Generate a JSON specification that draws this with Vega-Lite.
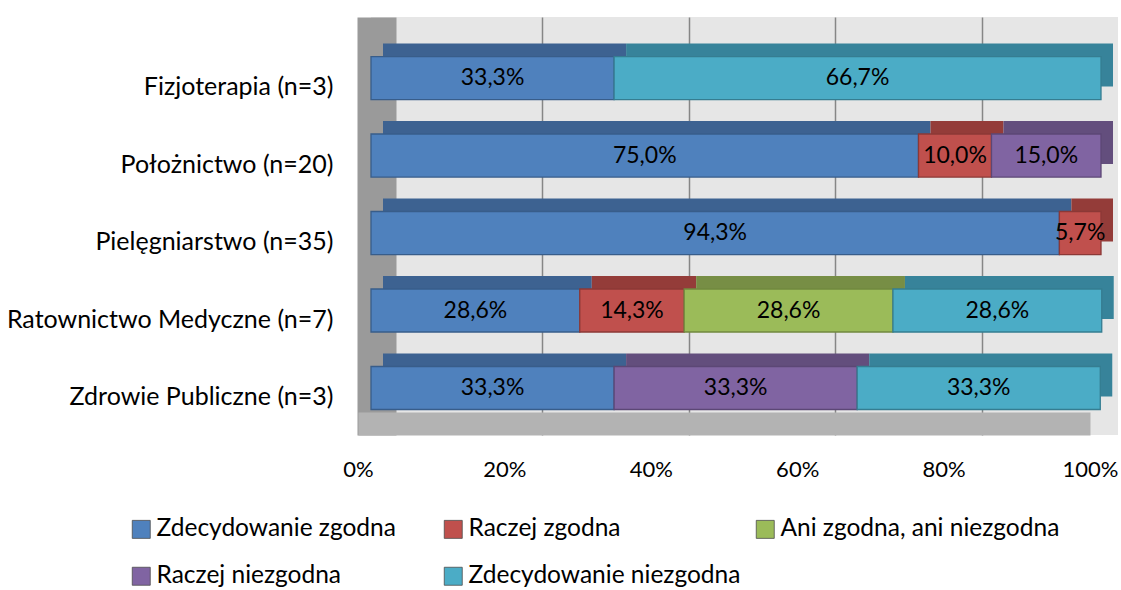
{
  "$schema": "https://vega.github.io/schema/vega-lite/v6.json",
  "width": 747,
  "height": 418,
  "autosize": {"type": "none"},
  "padding": {"left": 371, "top": 17, "right": 3, "bottom": 155},
  "background": "white",
  "config": {
    "font": "Lato",
    "locale": {"number": {"decimal": ",", "thousands": " ", "grouping": [3], "currency": ["", " zł"]}},
    "view": {"fill": "#e6e6e6", "stroke": null}
  },
  "data": {
    "values": [
      {"kierunek": "Fizjoterapia (n=3)", "odpowiedz": "Zdecydowanie zgodna", "o": 1, "udzial": 0.333},
      {"kierunek": "Fizjoterapia (n=3)", "odpowiedz": "Zdecydowanie niezgodna", "o": 5, "udzial": 0.667},
      {"kierunek": "Położnictwo (n=20)", "odpowiedz": "Zdecydowanie zgodna", "o": 1, "udzial": 0.75},
      {"kierunek": "Położnictwo (n=20)", "odpowiedz": "Raczej zgodna", "o": 2, "udzial": 0.10},
      {"kierunek": "Położnictwo (n=20)", "odpowiedz": "Raczej niezgodna", "o": 4, "udzial": 0.15},
      {"kierunek": "Pielęgniarstwo (n=35)", "odpowiedz": "Zdecydowanie zgodna", "o": 1, "udzial": 0.943},
      {"kierunek": "Pielęgniarstwo (n=35)", "odpowiedz": "Raczej zgodna", "o": 2, "udzial": 0.057},
      {"kierunek": "Ratownictwo Medyczne (n=7)", "odpowiedz": "Zdecydowanie zgodna", "o": 1, "udzial": 0.286},
      {"kierunek": "Ratownictwo Medyczne (n=7)", "odpowiedz": "Raczej zgodna", "o": 2, "udzial": 0.143},
      {"kierunek": "Ratownictwo Medyczne (n=7)", "odpowiedz": "Ani zgodna, ani niezgodna", "o": 3, "udzial": 0.286},
      {"kierunek": "Ratownictwo Medyczne (n=7)", "odpowiedz": "Zdecydowanie niezgodna", "o": 5, "udzial": 0.286},
      {"kierunek": "Zdrowie Publiczne (n=3)", "odpowiedz": "Zdecydowanie zgodna", "o": 1, "udzial": 0.333},
      {"kierunek": "Zdrowie Publiczne (n=3)", "odpowiedz": "Raczej niezgodna", "o": 4, "udzial": 0.333},
      {"kierunek": "Zdrowie Publiczne (n=3)", "odpowiedz": "Zdecydowanie niezgodna", "o": 5, "udzial": 0.333}
    ]
  },
  "transform": [
    {"stack": "udzial", "groupby": ["kierunek"], "sort": [{"field": "o", "order": "ascending"}], "as": ["x0", "x1"]}
  ],
  "encoding": {
    "y": {
      "field": "kierunek",
      "type": "nominal",
      "title": null,
      "sort": ["Fizjoterapia (n=3)", "Położnictwo (n=20)", "Pielęgniarstwo (n=35)", "Ratownictwo Medyczne (n=7)", "Zdrowie Publiczne (n=3)"],
      "scale": {"paddingInner": 0.445, "paddingOuter": 0.4195, "align": 0.608},
      "axis": {
        "orient": "left",
        "offset": -5.5,
        "domainColor": "#9a9a9a",
        "domainWidth": 39,
        "domainCap": "butt",
        "ticks": false,
        "grid": false,
        "labelPadding": 43.5,
        "labelOffset": 9,
        "labelFontSize": 25,
        "labelFont": "Lato",
        "labelColor": "#000000",
        "labelLimit": 500,
        "zindex": 0
      }
    }
  },
  "layer": [
    {
      "mark": {"type": "point", "opacity": 0},
      "encoding": {
        "x": {
          "field": "x1",
          "type": "quantitative",
          "scale": {"domain": [0, 1], "range": [25, 757], "nice": false, "zero": false},
          "axis": {
            "orient": "bottom",
            "grid": true,
            "gridColor": "#868686",
            "gridWidth": 1.5,
            "values": [0.2, 0.4, 0.6, 0.8],
            "labels": false,
            "ticks": false,
            "domain": false,
            "title": null,
            "zindex": 0
          }
        }
      }
    },
    {
      "mark": {"type": "point", "opacity": 0},
      "encoding": {
        "x": {
          "field": "x1",
          "type": "quantitative",
          "scale": {"domain": [0, 1], "range": [-13, 719], "nice": false, "zero": false},
          "axis": {
            "orient": "bottom",
            "offset": -11.5,
            "domainColor": "#b3b3b3",
            "domainWidth": 23,
            "domainCap": "butt",
            "ticks": false,
            "grid": false,
            "values": [0, 0.2, 0.4, 0.6, 0.8, 1],
            "format": ".0%",
            "labelPadding": 36,
            "labelFontSize": 22,
            "labelFont": "Lato",
            "labelColor": "#000000",
            "labelFlush": false,
            "labelOverlap": false,
            "title": null,
            "zindex": 1
          }
        }
      }
    },
    {
      "mark": {"type": "bar", "xOffset": 12, "x2Offset": 12, "yOffset": -13, "y2Offset": -13},
      "encoding": {
        "x": {"field": "x0", "type": "quantitative", "scale": {"domain": [0, 1], "range": [0, 730], "nice": false, "zero": false}, "axis": null},
        "x2": {"field": "x1"},
        "fill": {
          "field": "odpowiedz",
          "type": "nominal",
          "scale": {
            "domain": ["Zdecydowanie zgodna", "Raczej zgodna", "Ani zgodna, ani niezgodna", "Raczej niezgodna", "Zdecydowanie niezgodna"],
            "range": ["#3d6291", "#943c39", "#778e45", "#634e7d", "#37839a"]
          },
          "legend": null
        }
      }
    },
    {
      "mark": {"type": "bar", "strokeWidth": 1.3},
      "encoding": {
        "x": {"field": "x0", "type": "quantitative", "scale": {"domain": [0, 1], "range": [0, 730], "nice": false, "zero": false}, "axis": null},
        "x2": {"field": "x1"},
        "fill": {
          "field": "odpowiedz",
          "type": "nominal",
          "scale": {
            "domain": ["Zdecydowanie zgodna", "Raczej zgodna", "Ani zgodna, ani niezgodna", "Raczej niezgodna", "Zdecydowanie niezgodna"],
            "range": ["#4f81bd", "#c0504d", "#9bbb59", "#8064a2", "#4bacc6"]
          },
          "legend": {
            "orient": "none",
            "legendX": -242,
            "legendY": 500,
            "columns": 3,
            "direction": "horizontal",
            "gridAlign": "all",
            "title": null,
            "symbolType": "square",
            "symbolSize": 324,
            "symbolStrokeColor": "#4d4d4d",
            "symbolStrokeWidth": 0.8,
            "labelFontSize": 24.5,
            "labelFont": "Lato",
            "labelFontWeight": "normal",
            "labelColor": "#000000",
            "labelOffset": 3,
            "columnPadding": 5,
            "rowPadding": 22,
            "padding": 0,
            "labelLimit": 500
          }
        },
        "stroke": {
          "field": "odpowiedz",
          "type": "nominal",
          "scale": {
            "domain": ["Zdecydowanie zgodna", "Raczej zgodna", "Ani zgodna, ani niezgodna", "Raczej niezgodna", "Zdecydowanie niezgodna"],
            "range": ["#385d8a", "#8c3836", "#71893f", "#5c4776", "#357d91"]
          },
          "legend": null
        }
      }
    },
    {
      "transform": [
        {"fold": ["x0", "x1"], "as": ["krawedz", "pozycja"]},
        {"aggregate": [{"op": "mean", "field": "pozycja", "as": "srodek"}], "groupby": ["kierunek", "odpowiedz", "udzial"]}
      ],
      "mark": {"type": "text", "fontSize": 23, "font": "Lato", "color": "#000000"},
      "encoding": {
        "x": {"field": "srodek", "type": "quantitative", "scale": {"domain": [0, 1], "range": [0, 730], "nice": false, "zero": false}, "axis": null},
        "text": {"field": "udzial", "type": "quantitative", "format": ".1%"}
      }
    }
  ],
  "resolve": {"scale": {"x": "independent", "fill": "independent"}, "axis": {"x": "independent"}}
}
